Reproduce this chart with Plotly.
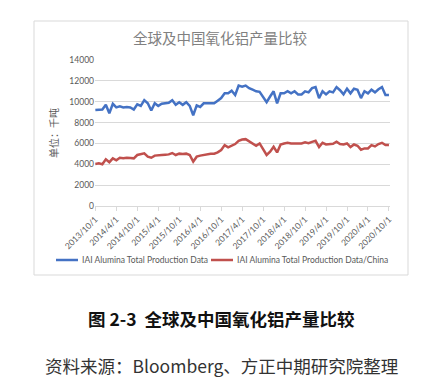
import plotly.graph_objects as go

# Monthly categories 2013/10 .. 2020/10
months = []
y, m = 2013, 10
for _ in range(85):
    months.append(f"{y}/{m}/1")
    m += 1
    if m > 12:
        m = 1
        y += 1

global_prod = [9200, 9200, 9250, 9700, 8900, 9800, 9450, 9550, 9450, 9500,
               9450, 9250, 9750, 9600, 10150, 9850, 9150, 9850, 9600, 9800,
               9850, 9900, 10150, 9700, 9950, 9700, 9950, 9600, 8700, 9650,
               9500, 9850, 9850, 9850, 9850, 10100, 10350, 10800, 10800, 11050,
               10650, 11550, 11450, 11550, 11300, 11150, 11000, 10950, 10500, 9950,
               10500, 11000, 9850, 10800, 10800, 11000, 10800, 11000, 10700, 10700,
               11000, 10900, 11300, 11400, 10350, 11000, 10700, 11000, 10900, 11400,
               11100, 10700, 11250, 10800, 11250, 11150, 10350, 11000, 10800, 11150,
               10900, 11200, 11400, 10650, 10650]

china_prod = [4030, 4100, 4000, 4480, 4200, 4570, 4380, 4630, 4570, 4630,
              4600, 4570, 4890, 4980, 5050, 4730, 4630, 4830, 4890, 4890,
              4920, 4950, 5080, 4890, 5020, 4980, 5020, 4890, 4250, 4730,
              4830, 4890, 4980, 5000, 5020, 5140, 5370, 5840, 5620, 5750,
              5940, 6250, 6380, 6410, 6220, 6000, 5780, 6000, 5400, 4890,
              5200, 5680, 5140, 5900, 6000, 6060, 6000, 6000, 6000, 6000,
              6100, 6030, 6150, 6250, 5650, 6060, 5900, 5970, 5970, 6160,
              5940, 5900, 6000, 5650, 5900, 5780, 5400, 5520, 5520, 5840,
              5710, 5940, 6060, 5840, 5840]

tick_labels = months[::6]
y_ticks = [0, 2000, 4000, 6000, 8000, 10000, 12000, 14000]

names = ["IAI Alumina Total Production Data", "IAI Alumina Total Production Data/China"]
colors = ["#4472C4", "#C0504D"]

fig = go.Figure()
for name, vals, col in zip(names, [global_prod, china_prod], colors):
    fig.add_trace(go.Scatter(x=months, y=vals, mode="lines", name=name,
                             line=dict(color=col, width=2.5), showlegend=False))

grey = "#595959"
W, L, PW, B, PH = 422, 87, 295, 198, 146


def px(xp):
    return (xp - L) / PW


def py(yp):
    return (B - yp) / PH


fig.update_layout(
    width=422, height=377,
    margin=dict(l=87, r=40, t=52, b=179),
    paper_bgcolor="white", plot_bgcolor="white",
    font=dict(family="Lato, Noto Sans CJK SC", size=8, color=grey),
    title=dict(text="全球及中国氧化铝产量比较", xref="paper", x=px(212), xanchor="center",
               y=1 - 31 / 377, yanchor="middle",
               font=dict(family="Noto Sans CJK SC", size=14.5, color="#808080")),
    xaxis=dict(type="category", tickmode="array", tickvals=tick_labels,
               ticktext=tick_labels, tickangle=-45, range=[-0.1, 84.3],
               showgrid=False, showline=True, linecolor="#d9d9d9",
               ticks="outside", ticklen=4, tickcolor="#d9d9d9",
               tickfont=dict(size=8.5, color=grey)),
    yaxis=dict(range=[0, 14000], tickvals=y_ticks, tickformat="d", showgrid=True,
               gridcolor="#d9d9d9", gridwidth=1, zeroline=False,
               tickfont=dict(size=8.5, color=grey), ticks="",
               title=dict(text="单位：千吨", standoff=8,
                          font=dict(family="Noto Sans CJK SC", size=10, color=grey))),
)

# legend drawn manually (single row, as in the reference)
leg_y = 252
leg_items = [(48, 70, 72), (203, 225, 227)]
for (lx0, lx1, tx), name, col in zip(leg_items, names, colors):
    fig.add_shape(type="line", xref="paper", yref="paper",
                  x0=px(lx0), x1=px(lx1), y0=py(leg_y), y1=py(leg_y),
                  line=dict(color=col, width=2.5))
    fig.add_annotation(text=name, xref="paper", yref="paper", x=px(tx), y=py(leg_y),
                       showarrow=False, xanchor="left", yanchor="middle",
                       font=dict(size=8.5, color=grey))

# chart border
fig.add_shape(type="rect", xref="paper", yref="paper",
              x0=px(26), x1=px(400), y0=py(267), y1=py(13),
              line=dict(color="#d9d9d9", width=1), fillcolor="rgba(0,0,0,0)", layer="below")

fig.add_annotation(text="<b>图 2-3&nbsp;&nbsp;全球及中国氧化铝产量比较</b>", xref="paper", yref="paper",
                   x=px(213), y=py(310), showarrow=False,
                   xanchor="center", yanchor="middle",
                   font=dict(family="Noto Sans CJK SC", size=17.5, color="#111111"))
fig.add_annotation(text="资料来源：Bloomberg、方正中期研究院整理", xref="paper", yref="paper",
                   x=px(213), y=py(357), showarrow=False,
                   xanchor="center", yanchor="middle",
                   font=dict(family="Noto Sans CJK SC", size=17.5, color="#333333"))

fig.write_html("out.html")
